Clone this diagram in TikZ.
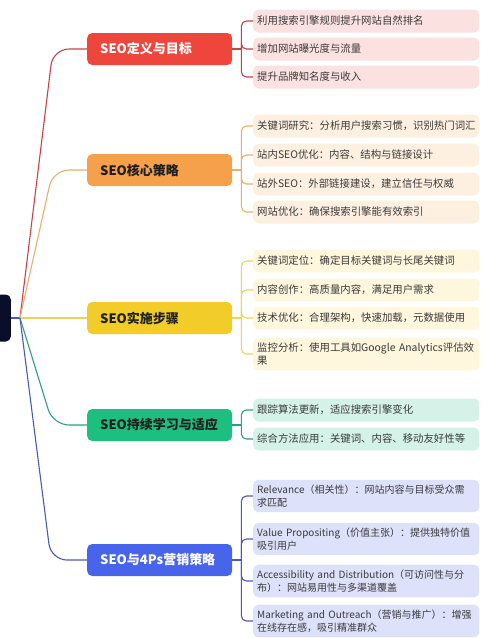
\documentclass[tikz,border=0pt]{standalone}
\usepackage{fontspec}
\setmainfont{Noto Sans CJK SC}
\usetikzlibrary{calc}
\definecolor{rootc}{HTML}{0B0E2A}
\definecolor{rootl}{HTML}{4A5AB0}
\definecolor{b1c}{HTML}{EE463D}
\definecolor{b2c}{HTML}{F5A04B}
\definecolor{b3c}{HTML}{F2CD2A}
\definecolor{b4c}{HTML}{1CBF7F}
\definecolor{b5c}{HTML}{4864EA}
\definecolor{l1c}{HTML}{FCE1E1}
\definecolor{l2c}{HTML}{FEF0E1}
\definecolor{l3c}{HTML}{FEF6DD}
\definecolor{l4c}{HTML}{D5F2E8}
\definecolor{l5c}{HTML}{DDE1FA}
\definecolor{c1}{HTML}{C8404A}
\definecolor{c2}{HTML}{E8AE6E}
\definecolor{c3}{HTML}{E8D55A}
\definecolor{c4}{HTML}{2E9E80}
\definecolor{c5}{HTML}{4C5AB4}
\definecolor{leaftext}{HTML}{3A3A3A}
\definecolor{darktext}{HTML}{1E1E1E}
\begin{document}
\begin{tikzpicture}[x=1pt,y=-1pt,
  branch/.style={rounded corners=5pt, minimum height=32pt, text width=119pt,
    inner xsep=13pt, inner ysep=0pt, align=left, anchor=west,
    font=\fontsize{13}{15}\selectfont\bfseries},
  leaf/.style={rounded corners=5pt, text width=218pt, inner xsep=4pt,
    inner ysep=5pt, minimum height=23pt, align=left, anchor=west,
    font=\fontsize{10.4}{13}\selectfont, text=leaftext},
  leafsm/.style={leaf, font=\fontsize{10}{13}\selectfont},
  conn/.style={line width=1.1pt, rounded corners=16pt},
  brk/.style={line width=1.1pt, rounded corners=5pt}]
\useasboundingbox (0,0) rectangle (500,638);
\clip (0,0) rectangle (500,638);

% root
\node[fill=rootc, rounded corners=5pt, minimum width=22pt, minimum height=47pt,
  anchor=east, inner sep=0pt] (r) at (11,318) {};
\coordinate (rj) at (20,318);
\draw[rootl, line width=1.1pt] (r.east) -- (rj);

% branches
\node[branch, fill=b1c, text=white] (b1) at (87,49) {\mbox{SEO定义与目标}};
\node[branch, fill=b2c, text=darktext] (b2) at (87,170) {\mbox{SEO核心策略}};
\node[branch, fill=b3c, text=darktext] (b3) at (87,318) {\mbox{SEO实施步骤}};
\node[branch, fill=b4c, text=darktext] (b4) at (87,425) {\mbox{SEO持续学习与适应}};
\node[branch, fill=b5c, text=white] (b5) at (87,560) {\mbox{SEO与4Ps营销策略}};

\draw[conn, c1] (rj) -- ($(b1.west)+(-34,0)$) -- (b1.west);
\draw[conn, c2] (rj) -- ($(b2.west)+(-34,0)$) -- (b2.west);
\draw[conn, c3] (rj) -- (b3.west);
\draw[conn, c4] (rj) -- ($(b4.west)+(-34,0)$) -- (b4.west);
\draw[conn, c5] (rj) -- ($(b5.west)+(-36,0)$) -- (b5.west);

% leaves group 1
\node[leaf, fill=l1c] (l11) at (253,21) {\mbox{利用搜索引擎规则提升网站自然排名}};
\node[leaf, fill=l1c] (l12) at (253,49) {\mbox{增加网站曝光度与流量}};
\node[leaf, fill=l1c] (l13) at (253,77) {\mbox{提升品牌知名度与收入}};
% group 2
\node[leaf, fill=l2c] (l21) at (253,126) {\mbox{关键词研究：分析用户搜索习惯，识别热门词汇}};
\node[leaf, fill=l2c] (l22) at (253,155) {\mbox{站内SEO优化：内容、结构与链接设计}};
\node[leaf, fill=l2c] (l23) at (253,184) {\mbox{站外SEO：外部链接建设，建立信任与权威}};
\node[leaf, fill=l2c] (l24) at (253,212) {\mbox{网站优化：确保搜索引擎能有效索引}};
% group 3
\node[leaf, fill=l3c] (l31) at (253,261) {\mbox{关键词定位：确定目标关键词与长尾关键词}};
\node[leaf, fill=l3c] (l32) at (253,290) {\mbox{内容创作：高质量内容，满足用户需求}};
\node[leaf, fill=l3c] (l33) at (253,318) {\mbox{技术优化：合理架构，快速加载，元数据使用}};
\node[leaf, fill=l3c] (l34) at (253,354) {\mbox{监控分析：使用工具如Google Analytics评估效}\\\mbox{果}};
% group 4
\node[leaf, fill=l4c] (l41) at (253,410) {\mbox{跟踪算法更新，适应搜索引擎变化}};
\node[leaf, fill=l4c] (l42) at (253,439) {\mbox{综合方法应用：关键词、内容、移动友好性等}};
% group 5
\node[leafsm, fill=l5c] (l51) at (253,496) {\mbox{Relevance（相关性）：网站内容与目标受众需}\\\mbox{求匹配}};
\node[leafsm, fill=l5c] (l52) at (253,539) {\mbox{Value Propositing（价值主张）：提供独特价值}\\\mbox{吸引用户}};
\node[leafsm, fill=l5c] (l53) at (253,581) {\mbox{Accessibility and Distribution（可访问性与分}\\\mbox{布）：网站易用性与多渠道覆盖}};
\node[leafsm, fill=l5c] (l54) at (253,621) {\mbox{Marketing and Outreach（营销与推广）：增强}\\\mbox{在线存在感，吸引精准群众}};

% brackets
\foreach \b/\c/\list in {1/c1/{1,2,3}, 2/c2/{1,2,3,4}, 3/c3/{1,2,3,4}, 4/c4/{1,2}, 5/c5/{1,2,3,4}} {
  \coordinate (j\b) at ($(b\b.east)+(9,0)$);
  \draw[brk, \c] (b\b.east) -- (j\b);
  \foreach \k in \list {
    \draw[brk, \c] (j\b) |- (l\b\k.west);
  }
}
\end{tikzpicture}
\end{document}
